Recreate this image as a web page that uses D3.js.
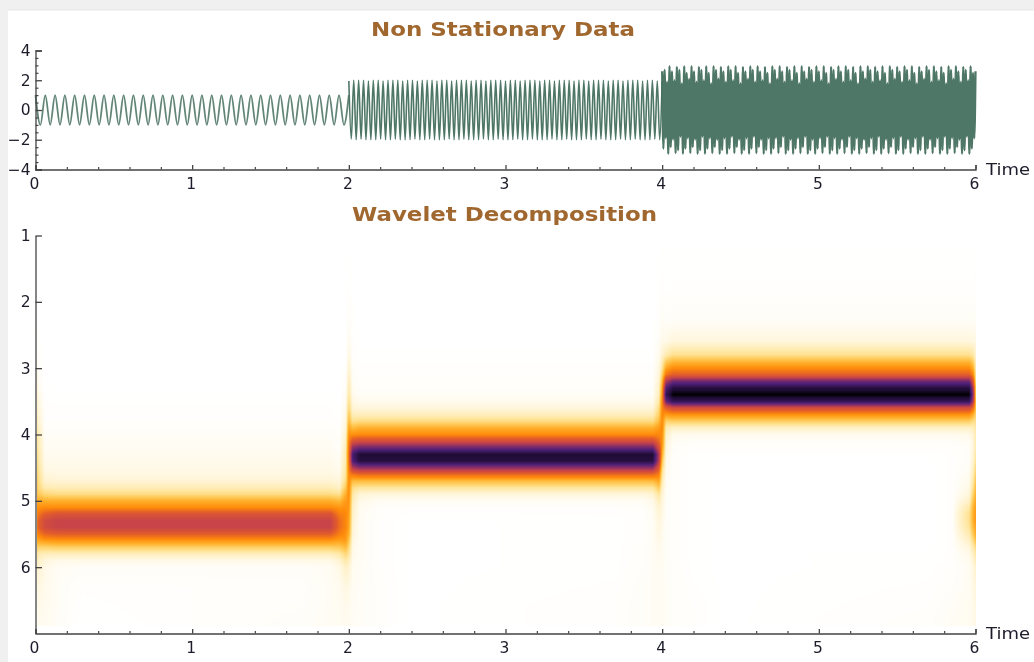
<!DOCTYPE html>
<html>
<head>
<meta charset="utf-8">
<script src="https://cdn.jsdelivr.net/npm/d3@7"></script>
<style>
  html, body { margin: 0; padding: 0; background: #fff; overflow: hidden; }
  #chart { position: relative; width: 1034px; height: 662px; }
  #chart canvas, #chart svg { position: absolute; left: 0; top: 0; }
  text { font-family: "DejaVu Sans", sans-serif; }
</style>
</head>
<body>
<div id="chart"></div>
<script>
// titles and ticks
const titles = ['Non Stationary Data', 'Wavelet Decomposition'];
const timeTicks = [0, 1, 2, 3, 4, 5, 6];
const timeMinor = [0.2, 0.4, 0.6, 0.8, 1.2, 1.4, 1.6, 1.8, 2.2, 2.4, 2.6, 2.8, 3.2, 3.4, 3.6, 3.8, 4.2, 4.4, 4.6, 4.8, 5.2, 5.4, 5.6, 5.8];
const ampTicks = [-4, -2, 0, 2, 4];
const ampMinor = [-3.5, -3, -2.5, -1.5, -1, -0.5, 0.5, 1, 1.5, 2.5, 3, 3.5];
const scaleTicks = [1, 2, 3, 4, 5, 6];

// signal extrema. one value per half period
const partStart = [0, 2, 4];
const partStep = [1 / 32, 1 / 64, 1 / 128];
const partA = [
  1, -1, 1, -1, 1, -1, 1, -1, 1, -1, 1, -1, 1, -1, 1, -1,
  1, -1, 1, -1, 1, -1, 1, -1, 1, -1, 1, -1, 1, -1, 1, -1,
  1, -1, 1, -1, 1, -1, 1, -1, 1, -1, 1, -1, 1, -1, 1, -1,
  1, -1, 1, -1, 1, -1, 1, -1, 1, -1, 1, -1, 1, -1, 1, -1, 1
];
const partB = [
  1.95, -1.95, 2, -2, 2, -1.95, 2, -2, 1.95, -2, 2, -2, 2, -1.95, 1.95, -2,
  2, -2, 2, -1.95, 2, -2, 1.95, -2, 2, -2, 2, -1.95, 1.95, -2, 2, -2,
  2, -1.95, 2, -2, 1.95, -2, 2, -2, 2, -1.95, 1.95, -2, 2, -2, 2, -1.95,
  2, -2, 1.95, -2, 2, -2, 2, -1.95, 1.95, -2, 2, -2, 2, -1.95, 2, -2,
  1.95, -2, 2, -2, 2, -1.95, 1.95, -2, 2, -2, 2, -1.95, 2, -2, 1.95, -2,
  2, -2, 2, -1.95, 1.95, -2, 2, -2, 2, -1.95, 2, -2, 1.95, -2, 2, -2,
  2, -1.95, 1.95, -2, 2, -2, 2, -1.95, 2, -2, 1.95, -2, 2, -2, 2, -1.95,
  1.95, -2, 2, -2, 2, -1.95, 2, -2, 1.95, -2, 2, -2, 2, -1.95, 1.95, -2, 1.95
];
const partC = [
  2.6, -2.6, 2.7, -1.9, 1.9, -2.95, 2.95, -2.5, 2.6, -2, 2, -2.9,
  2.9, -2.7, 2.7, -1.8, 1.8, -2.95, 2.95, -2.6, 2.5, -1.9, 2.1, -2.9,
  2.95, -2.5, 2.6, -2, 1.9, -2.95, 2.9, -2.7, 2.7, -1.8, 2, -2.95,
  2.95, -2.6, 2.5, -1.9, 1.8, -2.9, 2.95, -2.5, 2.7, -2, 2.1, -2.95,
  2.9, -2.7, 2.6, -1.9, 1.9, -2.95, 2.95, -2.6, 2.7, -1.8, 2, -2.9,
  2.95, -2.5, 2.5, -2, 1.8, -2.95, 2.9, -2.7, 2.6, -1.9, 2.1, -2.95,
  2.95, -2.6, 2.7, -1.8, 1.9, -2.9, 2.95, -2.5, 2.6, -2, 2, -2.95,
  2.9, -2.7, 2.5, -1.9, 1.8, -2.95, 2.95, -2.6, 2.7, -1.9, 2.1, -2.9,
  2.95, -2.5, 2.6, -1.8, 1.9, -2.95, 2.9, -2.7, 2.7, -2, 2, -2.95,
  2.95, -2.6, 2.5, -1.9, 1.8, -2.9, 2.95, -2.5, 2.6, -1.8, 2.1, -2.95,
  2.9, -2.7, 2.7, -2, 1.9, -2.95, 2.95, -2.6, 2.6, -1.9, 2, -2.9,
  2.95, -2.5, 2.5, -1.8, 1.8, -2.95, 2.9, -2.7, 2.7, -1.9, 2.1, -2.95,
  2.95, -2.6, 2.6, -2, 1.9, -2.9, 2.95, -2.5, 2.7, -1.8, 2, -2.95,
  2.9, -2.7, 2.5, -1.9, 1.8, -2.95, 2.95, -2.6, 2.6, -2, 2.1, -2.9,
  2.95, -2.5, 2.7, -1.9, 1.9, -2.95, 2.9, -2.7, 2.6, -1.8, 2, -2.95,
  2.95, -2.6, 2.5, -2, 1.8, -2.9, 2.95, -2.5, 2.7, -1.9, 2.1, -2.95,
  2.9, -2.7, 2.6, -1.8, 1.9, -2.95, 2.95, -2.6, 2.7, -2, 2, -2.9,
  2.95, -2.5, 2.5, -1.9, 1.8, -2.95, 2.9, -2.7, 2.6, -1.8, 2.1, -2.95,
  2.95, -2.6, 2.7, -2, 1.9, -2.9, 2.95, -2.5, 2.6, -1.9, 2, -2.95,
  2.9, -2.7, 2.5, -1.8, 1.8, -2.95, 2.95, -2.6, 2.7, -1.9, 2.1, -2.9,
  2.95, -2.5, 2.6, -2, 1.9, -2.95, 2.9, -2.7, 2.7, -1.8, 2, -2.95,
  2.95, -2.6, 2.5, -1.9, 2.6
];

// heatmap rows (scale) and columns (time). cell values are percent of full intensity
const rowScale = [1, 1.8, 2.3, 2.6, 2.8,
  3, 3.1, 3.2, 3.3, 3.4, 3.5, 3.6, 3.7, 3.8, 3.9,
  4, 4.1, 4.2, 4.3, 4.4, 4.5, 4.6, 4.7, 4.8, 4.9,
  5, 5.1, 5.2, 5.3, 5.4, 5.5, 5.6, 5.7, 5.8, 5.9,
  6, 6.3, 6.6, 6.88];
const colTime = [0, 0.02, 0.06, 0.14, 0.3, 1.7, 1.88, 1.94, 1.98, 2, 2.025, 2.07, 2.2, 2.4,
  3.7, 3.88, 3.94, 3.98, 4, 4.025, 4.07, 4.2, 4.4, 5.7, 5.85, 5.96, 5.985, 6];

const bandA = [0, 0, 0, 0, 0, 0, 0, 0, 0, .1, .1, .2, .2, .3, .5, .7, .9, 1.1, 1.4, 1.7, 2, 2.5, 3.8, 6.5, 11, 20, 27, 42, 50, 50, 38, 25, 14, 6, 2, .7, .2, .1, 0];
const bandB = [0, 0, 0, 0, .1, .2, .3, .4, .5, .8, 1.5, 3, 6, 11, 20, 27, 45, 68, 93, 90, 62, 35, 18, 9, 3, 1, .3, .1, 0, 0, 0, 0, 0, 0, 0, 0, 0, 0, 0];
const bandC = [0, .2, .8, 3, 10, 27, 38, 68, 90, 100, 85, 45, 26, 14, 5, 1.5, .6, .3, .1, 0, 0, 0, 0, 0, 0, 0, 0, 0, 0, 0, 0, 0, 0, 0, 0, 0, 0, 0, 0];

// a band with its lower rows swapped for what the edge of a segment shows
const tail = (band, from, vals) => band.slice(0, from).concat(vals);

const heatCols = [
  [0, .1, .3, .6, 1.5, 4, 5, 6, 7, 7, 8, 8, 9, 10, 11, 12, 13, 14, 15, 15, 16, 17, 18, 19, 20, 22, 24, 26, 26, 26, 24, 20, 15, 11, 8, 6, 3, 2, 1.5],
  [0, 0, 0, .1, .2, .4, .6, .9, 1.2, 2, 2.5, 3, 3.5, 4, 5, 6, 6.5, 7, 7.5, 8, 9, 10, 11, 12, 15, 21, 26, 32, 37, 37, 30, 22, 13, 7, 5, 4, 2.5, 1.8, 1.4],
  [0, 0, 0, 0, 0, 0, 0, 0, .1, .1, .2, .2, .3, .3, .5, .7, .9, 1.1, 1.4, 1.8, 2.2, 3, 4.2, 7, 12, 20, 27, 38, 46, 46, 36, 24, 13, 6, 3, 2, 1.6, 1.4, 1.2],
  tail(bandA, 33, [6, 2, .9, .8, .8, .7]),
  bandA,
  tail(bandA, 35, [.7, .4, .5, .6]),
  tail(bandA, 34, [2.2, 1, .9, .9, .9]),
  [0, 0, 0, 0, 0, 0, 0, 0, 0, 0, 0, .1, .1, .2, .2, .4, .5, .6, .8, 1, 1.4, 2, 3, 5, 10, 18, 25, 30, 34, 34, 30, 23, 15, 8, 4, 2.2, 1.4, 1.2, 1.1],
  [0, 0, 0, 0, 0, .1, .2, .3, .5, .8, 1.2, 1.6, 2, 2.5, 3, 4, 5, 6, 7, 7, 8, 9, 11, 15, 20, 24, 26, 28, 28, 28, 26, 24, 18, 12, 8, 5, 2.5, 1.6, 1.4],
  [0, .2, .8, 1.5, 2.5, 4, 5, 6, 7, 8, 10, 12, 15, 18, 22, 26, 29, 31, 32, 32, 30, 28, 27, 27, 27, 26, 25, 24, 23, 22, 20, 16, 12, 9, 6, 4, 2, 1.5, 1.2],
  [0, 0, .1, .2, .3, .5, .6, .8, 1, 1.5, 2.5, 3.5, 6, 10, 18, 26, 42, 62, 78, 76, 55, 32, 18, 11, 8, 6, 5, 4.5, 4, 3.5, 3, 2.5, 2, 1.7, 1.4, 1.2, 1, .9, .8],
  tail(bandB, 24, [3.5, 2, 1.2, 1.1, 1, 1, 1, 1, 1, 1, .9, .9, .8, .8, .8, .7]),
  tail(bandB, 25, [1, .4, .3, .3, .3, .3, .3, .3, .3, .3, .3, .4, .4, .4]),
  bandB,
  tail(bandB, 26, [.3, .2, .1, .1, .1, .1, .1, .1, .1, .1, .2, .3, .3]),
  tail(bandB, 25, [1, .5, .3, .3, .3, .3, .3, .4, .4, .5, .5, .7, .7, .7]),
  tail(bandB, 24, [4, 2, 1.4, 1, .9, .9, .9, .9, .9, .9, .9, .9, .9, .9, .9]),
  [0, .1, .4, .8, 1.5, 2.5, 3, 4, 5, 6, 8, 11, 14, 18, 24, 28, 34, 44, 54, 52, 40, 30, 22, 15, 9, 6, 4, 3.5, 3, 2.8, 2.5, 2.2, 1.8, 1.5, 1.3, 1.1, 1, 1, 1],
  [0, .3, 1, 2, 4, 9, 13, 18, 22, 25, 28, 28, 28, 28, 28, 27, 26, 24, 20, 16, 12, 9, 7, 5, 3.5, 3, 2.6, 2.3, 2, 1.8, 1.6, 1.4, 1.3, 1.2, 1.1, 1, 1, 1, .9],
  [0, .1, .5, 2, 7, 22, 32, 55, 75, 85, 70, 38, 24, 13, 7, 5, 3.5, 2.8, 2.2, 1.8, 1.5, 1.2, 1, .9, .8, .7, .7, .7, .7, .7, .7, .7, .7, .7, .7, .7, .8, .8, .8],
  tail(bandC, 15, [1.6, .9, .6, .5, .4, .4, .4, .4, .4, .4, .4, .4, .4, .4, .4, .4, .4, .4, .4, .4, .5, .5, .5, .5]),
  tail(bandC, 18, [.1, .1, .1, .1, .1, .1, .1, .1, .1, .1, .1, .1, .1, .1, .1, .1, .1, .1, .2, .3, .3]),
  bandC,
  tail(bandC, 33, [.1, .1, .1, .2, .3, .4]),
  tail(bandC, 18, [.2, .2, .2, .2, .2, .2, .2, .2, .2, .2, .2, .2, .2, .2, .2, .2, .2, .3, .5, .8, .9]),
  tail(bandC, 15, [2, 1, .7, .6, .7, .9, 1.2, 1.6, 2.2, 3, 5, 8, 10, 10, 9, 7, 5, 3, 2, 1.4, 1, 1, 1.2, 1.2]),
  [0, .2, .8, 2.5, 8, 20, 28, 42, 55, 62, 54, 34, 20, 11, 6, 4, 3, 3, 3.5, 4, 5, 6.5, 8, 10, 13, 16, 19, 20, 20, 18, 15, 11, 7.5, 5, 3.5, 2.8, 2.2, 1.9, 1.6],
  [0, .3, 1, 2.5, 4.5, 9, 11, 14, 18, 18, 20, 18, 14, 10, 8, 7, 7, 7, 8, 9, 11, 13, 15, 17, 19, 21, 23, 24, 24, 22, 20, 16, 11, 8, 6, 4.5, 3, 2.5, 2]
];

// sunset colours, white for no signal to black for the strongest
const rampStops = [0, 3, 8, 14, 20, 27, 38, 50, 62, 75, 93, 100];
const rampColors = ['#ffffff', '#fff6dc', '#ffe9a8', '#ffcf62', '#ffb02c', '#ff8c0a', '#e25c2a', '#c84448', '#8a2f66', '#4f1f78', '#1f0c35', '#000000'];

const width = 1034, height = 662;

// scales
const xTop = d3.scaleLinear().domain([0, 6]).range([35.5, 975.5]);
const xBot = d3.scaleLinear().domain([0, 6]).range([35.5, 975.5]);
const yTop = d3.scaleLinear().domain([-4, 4]).range([169.5, 50.5]);
const yBot = d3.scaleLinear().domain([1, 7]).range([235.5, 633.5]);
const color = d3.scaleLinear().domain(rampStops).range(rampColors).clamp(true);

// column and row lookup for the heatmap, gives fractional index
const colIndex = d3.scaleLinear().domain(colTime).range(d3.range(colTime.length)).clamp(true);
const rowIndex = d3.scaleLinear().domain(rowScale).range(d3.range(rowScale.length)).clamp(true);

const chart = d3.select('#chart');

// heatmap goes on a canvas under the svg
const canvas = chart.append('canvas').attr('width', width).attr('height', height);
const ctx = canvas.node().getContext('2d');

ctx.fillStyle = '#ffffff';
ctx.fillRect(0, 0, width, height);
// grey window border from the screenshot
ctx.fillStyle = '#f0f0f0';
ctx.fillRect(0, 0, width, 9);
ctx.fillRect(0, 0, 8, height);
ctx.fillStyle = '#e9e9e9';
ctx.fillRect(8, 9, width - 8, 1.5);

const imgX0 = Math.round(xBot(0)) + 1, imgX1 = Math.round(xBot(6));
const imgY0 = Math.round(yBot(1)), imgY1 = Math.round(yBot(6.88));
const img = ctx.createImageData(imgX1 - imgX0, imgY1 - imgY0);

for (let py = imgY0; py < imgY1; py++) {
  const r = rowIndex(yBot.invert(py + 0.5));
  const r0 = Math.min(Math.floor(r), rowScale.length - 2);
  const rf = r - r0;
  for (let px = imgX0; px < imgX1; px++) {
    const c = colIndex(xBot.invert(px + 0.5));
    const c0 = Math.min(Math.floor(c), colTime.length - 2);
    const cf = c - c0;
    const v = (heatCols[c0][r0] * (1 - cf) + heatCols[c0 + 1][r0] * cf) * (1 - rf)
      + (heatCols[c0][r0 + 1] * (1 - cf) + heatCols[c0 + 1][r0 + 1] * cf) * rf;
    const rgb = d3.rgb(color(v));
    const k = ((py - imgY0) * (imgX1 - imgX0) + (px - imgX0)) * 4;
    img.data[k] = rgb.r;
    img.data[k + 1] = rgb.g;
    img.data[k + 2] = rgb.b;
    img.data[k + 3] = 255;
  }
}
ctx.putImageData(img, imgX0, imgY0);

const svg = chart.append('svg').attr('width', width).attr('height', height);

// signal
const line = d3.line()
  .x((d) => xTop(d[0]))
  .y((d) => yTop(d[1]))
  .curve(d3.curveMonotoneX);
const partWidth = [1.8, 1.6, 2.3];

[partA, partB, partC].forEach((part, i) => {
  const pts = part.map((v, k) => [partStart[i] + k * partStep[i], v]);
  svg.append('path')
    .attr('d', line(pts))
    .attr('fill', 'none')
    .attr('stroke', '#46705f')
    .attr('stroke-width', partWidth[i])
    .attr('stroke-linejoin', 'round')
    .attr('stroke-opacity', i === 0 ? 0.85 : 0.95);
});

// axes
const axisColor = '#444';
const labelColor = '#1c1c2a';

function drawAxis(g, axis) {
  g.call(axis);
  g.selectAll('path, line').attr('stroke', axisColor).attr('stroke-width', 1.3);
  g.selectAll('text').attr('fill', labelColor).attr('font-size', 15.5);
}

function drawTimeAxis(scale, y) {
  svg.append('g')
    .attr('transform', `translate(0,${y})`)
    .call(d3.axisBottom(scale).tickValues(timeMinor).tickSize(-2.5).tickFormat(''))
    .call((g) => g.selectAll('line').attr('stroke', axisColor).attr('stroke-width', 1.2))
    .call((g) => g.select('.domain').remove());
  svg.append('g')
    .attr('transform', `translate(0,${y})`)
    .call((g) => drawAxis(g, d3.axisBottom(scale).tickValues(timeTicks).tickSize(-4.5).tickSizeOuter(-4.5).tickPadding(8).tickFormat(d3.format('d'))))
    .call((g) => g.selectAll('text').attr('dx', -1.5));
  svg.append('text')
    .attr('x', 986)
    .attr('y', y + 5.5)
    .attr('font-size', 16.5)
    .attr('textLength', 44)
    .attr('lengthAdjust', 'spacingAndGlyphs')
    .attr('fill', labelColor)
    .text('Time');
}

drawTimeAxis(xTop, yTop(-4));
drawTimeAxis(xBot, yBot(7));

// amplitude axis, top panel
svg.append('g')
  .attr('transform', `translate(${xTop(0)},0)`)
  .call(d3.axisLeft(yTop).tickValues(ampMinor).tickSize(-3).tickFormat(''))
  .call((g) => g.selectAll('line').attr('stroke', axisColor).attr('stroke-width', 1.2))
  .call((g) => g.select('.domain').remove());
svg.append('g')
  .attr('transform', `translate(${xTop(0)},0)`)
  .call((g) => drawAxis(g, d3.axisLeft(yTop).tickValues(ampTicks).tickSize(-6.5).tickSizeOuter(-6.5).tickPadding(5)));

// scale axis, bottom panel, runs down to the time axis
svg.append('g')
  .attr('transform', `translate(${xBot(0)},0)`)
  .call((g) => drawAxis(g, d3.axisLeft(yBot).tickValues(scaleTicks).tickSize(-6.5).tickSizeOuter(0).tickPadding(5).tickFormat(d3.format('d'))));

// titles, stretched a bit wider like the screenshot
svg.selectAll('.title')
  .data(titles)
  .join('text')
  .attr('class', 'title')
  .attr('x', (d, i) => (i === 0 ? 371 : 352))
  .attr('y', (d, i) => (i === 0 ? 36 : 221))
  .attr('font-size', 19.5)
  .attr('font-weight', 'bold')
  .attr('textLength', (d, i) => (i === 0 ? 264 : 305))
  .attr('lengthAdjust', 'spacingAndGlyphs')
  .attr('fill', '#a0672f')
  .text((d) => d);
</script>
</body>
</html>
